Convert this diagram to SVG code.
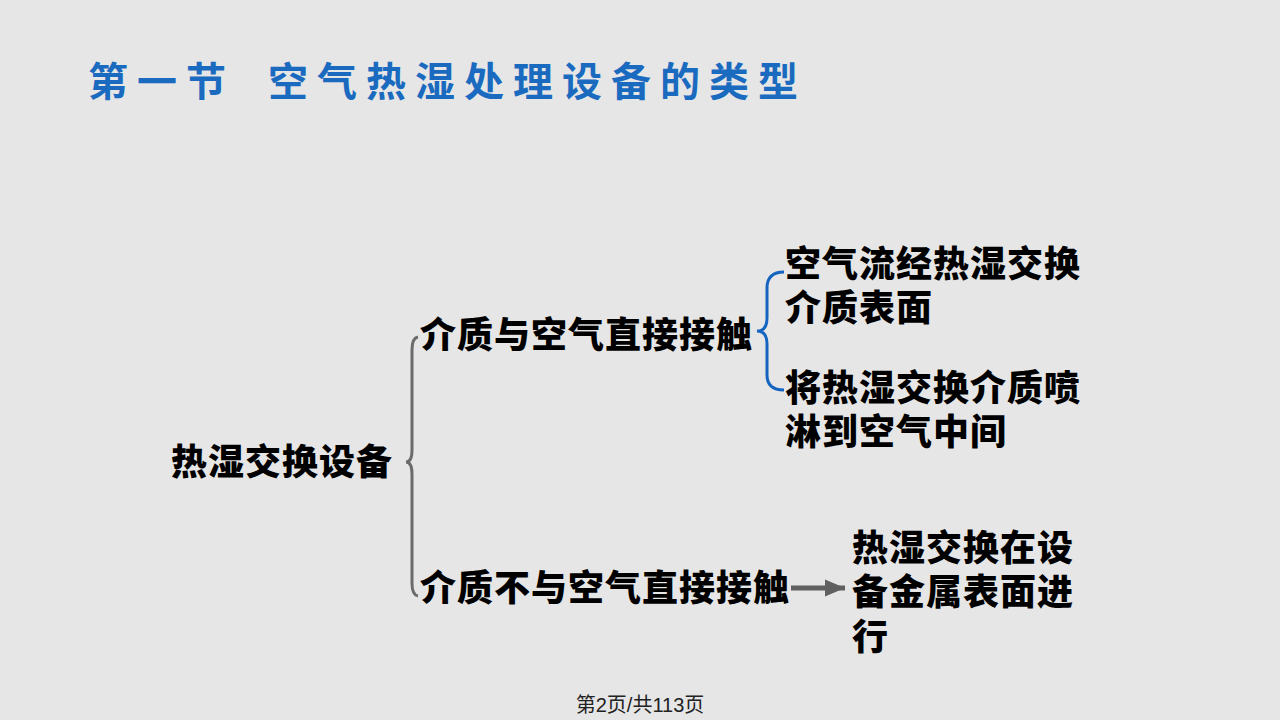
<svg xmlns="http://www.w3.org/2000/svg" width="1280" height="720" viewBox="0 0 1280 720">
<defs>
<style>
.t{font-family:"Noto Sans CJK SC","Noto Sans",sans-serif;font-weight:900;font-size:36px;fill:#000;letter-spacing:1px}
.title{font-family:"Noto Sans CJK SC","Noto Sans",sans-serif;font-weight:700;font-size:40px;fill:#1a6bbf;letter-spacing:9px}
.foot{font-family:"Liberation Sans","Noto Sans CJK SC",sans-serif;font-size:20px;fill:#222}
</style>
<marker id="ah" markerWidth="5" markerHeight="4" refX="4" refY="2" orient="auto" markerUnits="strokeWidth">
<path d="M0,0.3 L4,2 L0,3.7 Z" fill="#606060"/>
</marker>
</defs>
<rect width="1280" height="720" fill="#e6e6e6"/>
<g id="title">
<text class="title" x="88" y="96">第一节</text>
<text class="title" x="268" y="96">空气热湿处理设备的类型</text>
</g>
<g id="connectors" fill="none">
<path d="M418 337 Q412 338 412 350 L412 450 Q412 462 406 462 Q412 462 412 474 L412 583 Q412 595 418 596" stroke="#6b6b6b" stroke-width="3"/>
<path d="M784 272 Q767 272 767 288 L767 318 Q767 331 757 331 Q767 331 767 344 L767 375 Q767 390 784 390" stroke="#1565c0" stroke-width="3"/>
<line x1="791" y1="588" x2="845" y2="588" stroke="#606060" stroke-width="5" marker-end="url(#ah)"/>
</g>
<g id="root"><text class="t" x="171" y="475">热湿交换设备</text></g>
<g id="direct"><text class="t" x="420" y="348">介质与空气直接接触</text></g>
<g id="indirect"><text class="t" x="420" y="601">介质不与空气直接接触</text></g>
<g id="surface"><text class="t"><tspan x="785" y="277">空气流经热湿交换</tspan><tspan x="785" y="321">介质表面</tspan></text></g>
<g id="spray"><text class="t"><tspan x="785" y="401">将热湿交换介质喷</tspan><tspan x="785" y="445">淋到空气中间</tspan></text></g>
<g id="metal"><text class="t"><tspan x="852" y="561">热湿交换在设</tspan><tspan x="852" y="605">备金属表面进</tspan><tspan x="852" y="650">行</tspan></text></g>
<g id="footer"><text class="foot" x="640" y="712" text-anchor="middle">第2页/共113页</text></g>
</svg>
